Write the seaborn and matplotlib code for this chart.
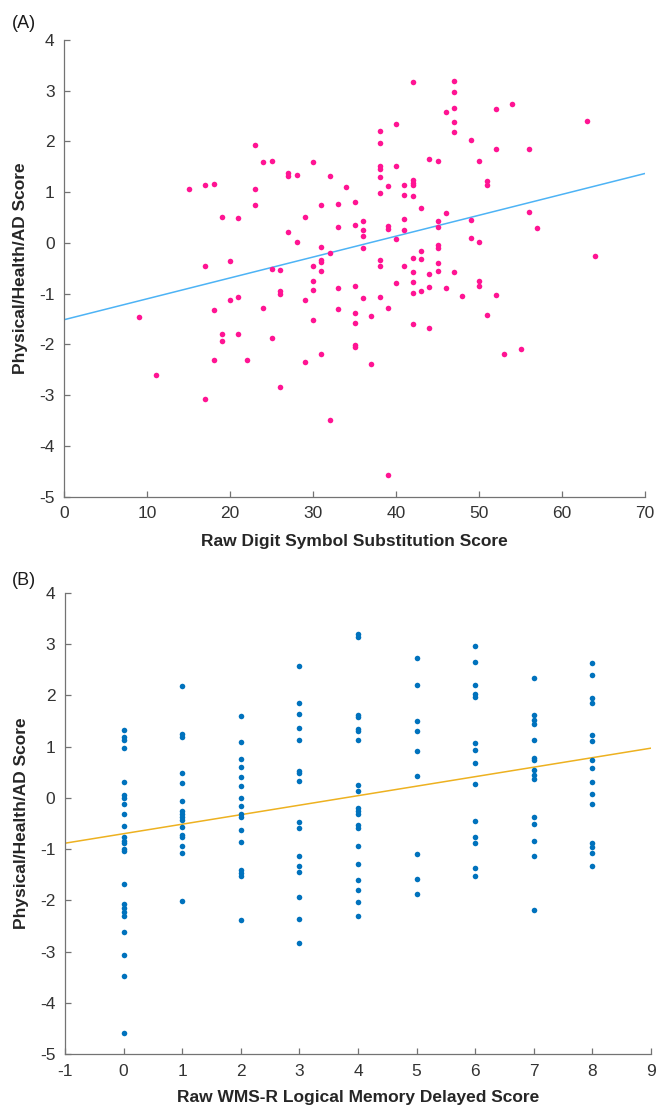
import matplotlib as mpl
import matplotlib.pyplot as plt
import pandas as pd
import seaborn as sns

# --- Panel A: raw Digit Symbol Substitution score vs composite score ---
dsst_score = [
    9, 11, 15,
    17, 17, 17,
    18, 18, 18,
    19, 19, 19,
    20, 20,
    21, 21, 21,
    22,
    23, 23, 23,
    24, 24,
    25, 25, 25,
    26, 26, 26, 26,
    27, 27, 27,
    28, 28,
    29, 29, 29,
    30, 30, 30, 30, 30,
    31, 31, 31, 31, 31, 31,
    32, 32, 32,
    33, 33, 33, 33,
    34,
    35, 35, 35, 35, 35, 35, 35,
    36, 36, 36, 36, 36,
    37, 37,
    38, 38, 38, 38, 38, 38, 38, 38, 38,
    39, 39, 39, 39, 39,
    40, 40, 40, 40,
    41, 41, 41, 41, 41,
    42, 42, 42, 42, 42, 42, 42, 42, 42, 42,
    43, 43, 43, 43,
    44, 44, 44, 44,
    45, 45, 45, 45, 45, 45, 45,
    46, 46, 46,
    47, 47, 47, 47, 47, 47,
    48,
    49, 49, 49,
    50, 50, 50, 50,
    51, 51, 51,
    52, 52, 52,
    53, 54, 55,
    56, 56,
    57, 63, 64,
]
dsst_phad = [
    -1.45, -2.61, 1.07,
    1.14, -0.46, -3.07,
    1.17, -1.33, -2.31,
    0.51, -1.80, -1.93,
    -0.36, -1.12,
    0.49, -1.07, -1.79,
    -2.31,
    1.94, 1.06, 0.74,
    1.60, -1.28,
    1.62, -0.51, -1.87,
    -0.53, -0.95, -1.00, -2.83,
    1.37, 1.32, 0.22,
    1.34, 0.02,
    0.51, -1.12, -2.35,
    1.60, -0.46, -0.74, -0.92, -1.51,
    0.74, -0.07, -0.33, -0.37, -0.55, -2.18,
    1.32, -0.19, -3.48,
    0.76, 0.32, -0.88, -1.30,
    1.10,
    0.80, 0.36, -0.84, -1.37, -1.58, -2.01, -2.04,
    0.43, 0.25, 0.14, -0.10, -1.09,
    -1.44, -2.39,
    2.20, 1.98, 1.51, 1.45, 1.30, 0.98, -0.34, -0.45, -1.07,
    1.13, 0.34, 0.28, -1.28, -4.57,
    2.34, 1.51, 0.07, -0.78,
    1.15, 0.94, 0.48, 0.26, -0.45,
    3.17, 1.24, 1.18, 1.14, 0.92, -0.30, -0.58, -0.76, -0.99, -1.60,
    0.68, -0.16, -0.31, -0.95,
    1.65, -0.62, -0.87, -1.68,
    1.61, 0.43, 0.32, -0.03, -0.10, -0.40, -0.56,
    2.59, 0.60, -0.89,
    3.19, 2.97, 2.66, 2.38, 2.18, -0.58,
    -1.05,
    2.02, 0.45, 0.09,
    1.62, 0.01, -0.75, -0.84,
    1.22, 1.14, -1.41,
    2.64, 1.86, -1.03,
    -2.19, 2.74, -2.08,
    1.86, 0.62,
    0.30, 2.40, -0.26,
]

# --- Panel B: raw WMS-R Logical Memory delayed score vs composite score ---
wms_score = (
    [0] * 24 + [1] * 16 + [2] * 16 + [3] * 16 + [4] * 20
    + [5] * 9 + [6] * 14 + [7] * 15 + [8] * 15
)
wms_phad = [
    # 0
    1.32, 1.19, 1.14, 0.98, 0.31, 0.05, 0.00, -0.11, -0.32, -0.55, -0.77, -0.84,
    -0.89, -0.99, -1.04, -1.69, -2.08, -2.14, -2.23, -2.31, -2.62, -3.07, -3.48, -4.58,
    # 1
    2.18, 1.24, 1.18, 0.48, 0.29, -0.06, -0.26, -0.32, -0.37, -0.44, -0.57, -0.73,
    -0.77, -0.94, -1.07, -2.01,
    # 2
    1.60, 1.09, 0.75, 0.61, 0.41, 0.23, -0.01, -0.16, -0.32, -0.38, -0.63, -0.86,
    -1.41, -1.46, -1.53, -2.39,
    # 3
    2.58, 1.86, 1.63, 1.37, 1.13, 0.53, 0.49, 0.33, -0.47, -0.59, -1.13, -1.32,
    -1.45, -1.93, -2.36, -2.83,
    # 4
    3.19, 3.15, 1.62, 1.58, 1.34, 1.30, 1.14, 0.25, 0.14, -0.19, -0.26, -0.32,
    -0.53, -0.58, -0.94, -1.29, -1.61, -1.80, -2.03, -2.31,
    # 5
    2.73, 2.20, 1.50, 1.30, 0.92, 0.43, -1.09, -1.59, -1.88,
    # 6
    2.96, 2.66, 2.20, 2.02, 1.97, 1.07, 0.93, 0.68, 0.27, -0.45, -0.77, -0.89,
    -1.37, -1.52,
    # 7
    2.34, 1.62, 1.53, 1.45, 1.13, 0.78, 0.74, 0.54, 0.45, 0.36, -0.37, -0.51,
    -0.85, -1.13, -2.19,
    # 8
    2.64, 2.39, 1.95, 1.86, 1.22, 1.11, 0.74, 0.59, 0.32, 0.07, -0.11, -0.89,
    -0.96, -1.07, -1.33,
]

y_label = "Physical/Health/AD Score"


def style_axis(ax, xticks, yticks):
    """MATLAB-like look: open box, inward ticks, grey axis lines."""
    sns.despine(ax=ax)
    ax.set_xticks(xticks)
    ax.set_yticks(yticks)
    ax.tick_params(bottom=True, left=True, direction="in", length=4,
                   width=0.9, colors="0.45", labelcolor="0.2",
                   labelsize=12.5, pad=7)
    for side in ("left", "bottom"):
        ax.spines[side].set_color("0.45")
        ax.spines[side].set_linewidth(0.9)
    ax.set_ylabel(y_label, fontsize=12.5, fontweight="bold", color="0.15",
                  labelpad=8)


def main():
    sns.set_theme(style="white")
    mpl.rcParams.update({
        "font.family": ["Liberation Sans", "DejaVu Sans"],
        "axes.facecolor": "white",
        "axes.unicode_minus": False,
    })

    fig = plt.figure(figsize=(6.58, 11.08), dpi=100)
    ax_a = fig.add_axes([0.0977, 0.5517, 0.8825, 0.4122])
    ax_b = fig.add_axes([0.0988, 0.0487, 0.8906, 0.4161])

    # --- (A) Digit Symbol ---
    df_a = pd.DataFrame({"dsst": dsst_score, "phad": dsst_phad})
    ax_a.set_xlim(0, 70)
    ax_a.set_ylim(-5, 4)
    sns.scatterplot(data=df_a, x="dsst", y="phad", color="#ff1493", s=16,
                    linewidth=0, ax=ax_a, zorder=3)
    sns.regplot(data=df_a, x="dsst", y="phad", scatter=False, ci=None,
                truncate=False, color="#4db3f5", line_kws={"linewidth": 1.1},
                ax=ax_a)
    ax_a.set_xlim(0, 70)
    style_axis(ax_a, range(0, 71, 10), range(-5, 5))
    ax_a.set_xlabel("Raw Digit Symbol Substitution Score", fontsize=12.5,
                    fontweight="bold", color="0.15", labelpad=9)

    # --- (B) WMS-R Logical Memory ---
    df_b = pd.DataFrame({"wms": wms_score, "phad": wms_phad})
    ax_b.set_xlim(-1, 9)
    ax_b.set_ylim(-5, 4)
    sns.scatterplot(data=df_b, x="wms", y="phad", color="#0072bd", s=16,
                    linewidth=0, ax=ax_b, zorder=3)
    sns.regplot(data=df_b, x="wms", y="phad", scatter=False, ci=None,
                truncate=False, color="#edb120", line_kws={"linewidth": 1.1},
                ax=ax_b)
    ax_b.set_xlim(-1, 9)
    style_axis(ax_b, range(-1, 10), range(-5, 5))
    ax_b.set_xlabel("Raw WMS-R Logical Memory Delayed Score", fontsize=12.5,
                    fontweight="bold", color="0.15", labelpad=8)

    fig.text(0.018, 0.979, "(A)", fontsize=13, color="0.1", va="center")
    fig.text(0.018, 0.476, "(B)", fontsize=13, color="0.1", va="center")

    fig.savefig("out.png", dpi=100)
    plt.close(fig)


if __name__ == "__main__":
    main()
